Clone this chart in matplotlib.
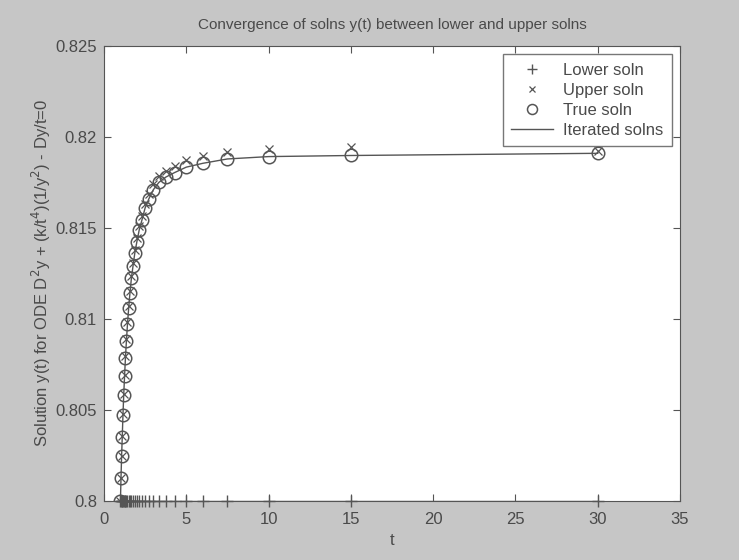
import matplotlib.pyplot as plt
import numpy as np

# t = 30/n, n = 30..1
t = [1.0, 1.034, 1.071, 1.111, 1.154, 1.2, 1.25, 1.304, 1.364, 1.429,
     1.5, 1.579, 1.667, 1.765, 1.875, 2.0, 2.143, 2.308, 2.5, 2.727,
     3.0, 3.333, 3.75, 4.286, 5.0, 6.0, 7.5, 10.0, 15.0, 30.0]

true_soln = [0.8, 0.80126, 0.80245, 0.80354, 0.80473, 0.80583, 0.80684, 0.80786,
             0.80881, 0.80973, 0.8106, 0.81143, 0.81225, 0.81291, 0.81363, 0.81425,
             0.8149, 0.81544, 0.8161, 0.8166, 0.8171, 0.8175, 0.81779, 0.81804,
             0.81834, 0.81855, 0.81879, 0.81892, 0.81898, 0.8191]

upper_soln = [0.8, 0.80128, 0.80248, 0.80358, 0.80478, 0.80589, 0.80691, 0.80794,
              0.8089, 0.80983, 0.81071, 0.81155, 0.81238, 0.81306, 0.81379, 0.81443,
              0.8151, 0.81566, 0.81634, 0.81688, 0.8174, 0.81783, 0.81815, 0.81842,
              0.81874, 0.81895, 0.81919, 0.81932, 0.81945, 0.8192]

lower_soln = [0.8] * len(t)

fg = '#555555'
txt = '#4a4a4a'

plt.rcParams['font.family'] = ['Liberation Sans', 'DejaVu Sans']

fig = plt.figure(figsize=(7.39, 5.6), dpi=100, facecolor='#c6c6c6')
ax = fig.add_axes([0.1407, 0.1054, 0.7795, 0.8126])

ax.plot(t, lower_soln, '+', color=fg, ms=9, mew=1.0, label='Lower soln', clip_on=False)
ax.plot(t, upper_soln, 'x', color=fg, ms=6, mew=0.9, label='Upper soln')
ax.plot(t, true_soln, 'o', color=fg, mfc='none', ms=9, mew=1.1, label='True soln')
ax.plot(t, true_soln, '-', color=fg, lw=1.0, label='Iterated solns')
ax.plot(t, lower_soln, '-', color=fg, lw=1.0)

ax.set_xlim(0, 35)
ax.set_ylim(0.8, 0.825)
ax.set_xticks(np.arange(0, 36, 5))
ax.set_yticks([0.8, 0.805, 0.81, 0.815, 0.82, 0.825])
ax.set_yticklabels(['0.8', '0.805', '0.81', '0.815', '0.82', '0.825'])

ax.tick_params(direction='in', length=5, color=fg, labelcolor=txt, labelsize=12,
               top=True, right=True)
ax.tick_params(axis='x', pad=8)
ax.tick_params(axis='y', pad=5)
for s in ax.spines.values():
    s.set_color(fg)

ax.set_title('Convergence of solns y(t) between lower and upper solns',
             color=txt, fontsize=11, pad=12)
ax.set_xlabel('t', color=txt, fontsize=12, labelpad=4)
ax.set_ylabel('Solution y(t) for ODE D$^2$y + (k/t$^4$)(1/y$^2$) - Dy/t=0',
              color=txt, fontsize=12, labelpad=2)

leg = ax.legend(loc='upper right', fontsize=12, frameon=True, fancybox=False,
                borderaxespad=0.5, handlelength=2.5, handletextpad=0.6,
                labelspacing=0.3, borderpad=0.5, markerscale=0.8)
leg.get_frame().set_edgecolor(fg)
leg.get_frame().set_linewidth(1.0)
for tx in leg.get_texts():
    tx.set_color(txt)

fig.savefig('out.png', dpi=100, facecolor=fig.get_facecolor())
